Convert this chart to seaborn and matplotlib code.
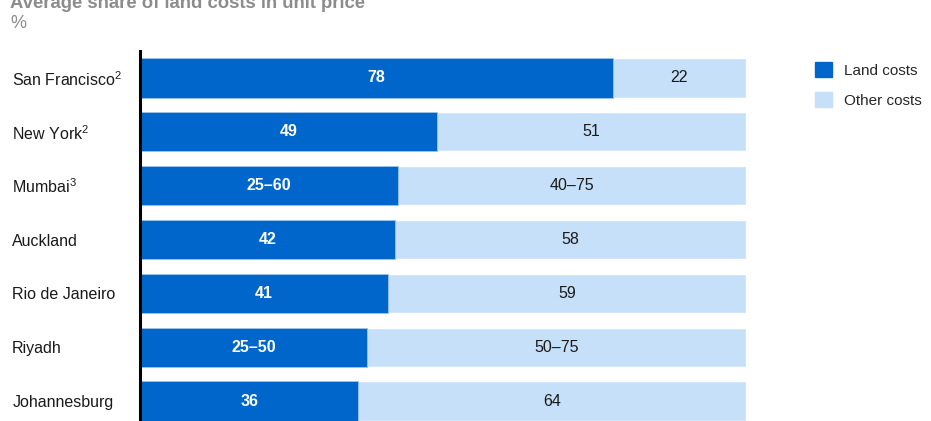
import numpy as np
import pandas as pd
import matplotlib
matplotlib.use("Agg")
import matplotlib.pyplot as plt
from matplotlib.patches import Patch
import seaborn as sns

# Data
cities = ["San Francisco$^{2}$", "New York$^{2}$", "Mumbai$^{3}$", "Auckland",
          "Rio de Janeiro", "Riyadh", "Johannesburg"]
land = [78, 49, 42.5, 42, 41, 37.5, 36]   # ranges drawn at their midpoint
land_labels = ["78", "49", "25–60", "42", "41", "25–50", "36"]
other_labels = ["22", "51", "40–75", "58", "59", "50–75", "64"]

dark = "#0066CC"
light = "#C7E0F9"

sns.set_style("white")
plt.rcParams["font.family"] = ["Liberation Sans", "DejaVu Sans"]
plt.rcParams["mathtext.fontset"] = "custom"
plt.rcParams["mathtext.rm"] = "Liberation Sans"
plt.rcParams["mathtext.it"] = "Liberation Sans"
plt.rcParams["mathtext.default"] = "regular"

df = pd.DataFrame({"city": cities, "land": land, "total": [100] * len(cities)})

fig = plt.figure(figsize=(9.31, 4.21), dpi=100)
ax = fig.add_axes([140 / 931, -7 / 421, 606 / 931, 377 / 421])

# total bar (other costs) underneath, land costs on top
sns.barplot(data=df, x="total", y="city", color=light, saturation=1,
            width=0.73, edgecolor="white", linewidth=1, ax=ax)
sns.barplot(data=df, x="land", y="city", color=dark, saturation=1,
            width=0.73, edgecolor="#9CC3EC", linewidth=0.6, ax=ax)

for i, (v, a, b) in enumerate(zip(land, land_labels, other_labels)):
    ax.text(v / 2, i, a, ha="center", va="center", color="white",
            fontsize=11.5, fontweight="bold")
    ax.text((v + 100) / 2, i, b, ha="center", va="center", color="#1a1a1a",
            fontsize=11.5)

ax.set_xlim(0, 100)
ax.set_ylim(6.5, -0.5)
ax.set_xlabel("")
ax.set_ylabel("")
ax.set_xticks([])
for s in ["top", "right", "bottom"]:
    ax.spines[s].set_visible(False)
ax.spines["left"].set_color("black")
ax.spines["left"].set_linewidth(2.2)
ax.tick_params(axis="y", length=0, pad=92, labelsize=11.5, labelcolor="#1a1a1a")
for lab in ax.get_yticklabels():
    lab.set_horizontalalignment("left")

# title (clipped at the top in the original) and unit
fig.text(10 / 931, 1 - 4 / 421, "Average share of land costs in unit price",
         fontsize=13.3, fontweight="bold", color="#8c8c8c", va="center")
fig.text(10 / 931, 1 - 23 / 421, "%", fontsize=13, color="#8c8c8c", va="center")

handles = [Patch(facecolor=dark, edgecolor=dark, label="Land costs"),
           Patch(facecolor=light, edgecolor=light, label="Other costs")]
fig.legend(handles=handles, loc="upper left",
           bbox_to_anchor=(809 / 931, 1 - 56 / 421), frameon=False,
           fontsize=11, handlelength=1.1, handleheight=1.1,
           handletextpad=0.8, labelspacing=0.95, borderaxespad=0)

fig.savefig("out.png", dpi=100)
